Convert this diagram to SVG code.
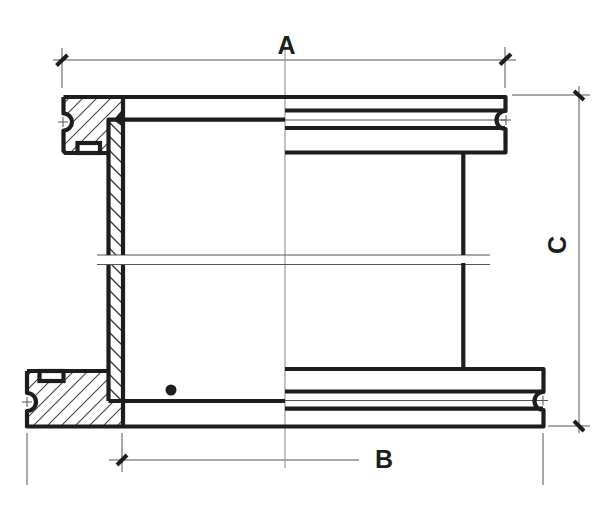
<svg xmlns="http://www.w3.org/2000/svg" width="600" height="507" viewBox="0 0 600 507">
<style>
.m{fill:none;stroke:#1d1d1b;stroke-width:4.200;stroke-linejoin:round}
.t{fill:none;stroke:#555;stroke-width:1}
.c{fill:none;stroke:#999;stroke-width:1.2}
.k{fill:#fff;stroke:#1d1d1b;stroke-width:4.200}
.tick{stroke:#1d1d1b;stroke-width:4;fill:none}
text{font-family:"Liberation Sans",Arial,sans-serif;font-weight:bold;font-size:25px;fill:#1d1d1b;text-anchor:middle}
</style>
<defs>
<pattern id="h1" patternUnits="userSpaceOnUse" x="13" y="0" width="14" height="14"><path d="M-1 15L15 -1M-8 8L8 -8M6 22L22 6" stroke="#444" stroke-width="1.100" fill="none"/></pattern>
<pattern id="h2" patternUnits="userSpaceOnUse" x="11" y="0" width="14" height="14"><path d="M-1 15L15 -1M-8 8L8 -8M6 22L22 6" stroke="#444" stroke-width="1.100" fill="none"/></pattern>
<pattern id="h3" patternUnits="userSpaceOnUse" x="-13" y="0" width="14" height="14"><path d="M-1 -1L15 15M-8 6L8 22M6 -8L22 8" stroke="#333" stroke-width="1.300" fill="none"/></pattern>
</defs>
<rect width="600" height="507" fill="#fff"/>
<g id="hatching">
<path d="M63 97H123V120H108.500V153H65L63 151V130.500A8.500 8.500 0 0 0 63 113.500Z" fill="url(#h1)"/>
<path d="M27 371H108.500V401H123V427H27V411A9 9 0 0 0 27 393Z" fill="url(#h2)"/>
<rect x="108.500" y="120" width="14.500" height="135" fill="url(#h3)"/>
<rect x="108.500" y="265" width="14.500" height="136" fill="url(#h3)"/>
</g>
<g id="dimensions">
<path class="t" d="M53 60H516M62 48V88M505 47V88M512 95H590M579 86V433M548 426H590M109 460H359M122 433V472M27 433V485M543 433V485"/>
<path class="c" d="M285 47V468"/>
<path class="tick" d="M56.500 65.500L67.500 55M500 64.500L511 54M574 91L584 100M574 421L584 431M117 465L127 455"/>
</g>
<g id="centre-lines">
<path class="t" d="M285 120H506M285 400.500H543M97 255H490M97 264.500H490"/>
<path class="t" d="M58 122H68M63 117V127M501 120H511M506 115V125M538 400.500H548M543 395.500V405.500M22 402H32M27 397V407"/>
</g>
<g id="top-flange">
<path class="m" d="M63.500 97H505.500V111A8.500 8.500 0 0 0 505.500 129V152.500H285M63.500 97V113.500A8.500 8.500 0 0 1 63.500 130.500V151L65.500 153H108.500"/>
<path class="m" d="M285 110.500H505M285 128H505M108.500 255V119.700H285"/>
<rect class="k" x="77.500" y="143" width="22.500" height="10"/>
<path d="M121 111L113.500 120L123 127Z" fill="#1d1d1b"/>
</g>
<g id="wall">
<path class="m" d="M123 97V255M123 265V427M463.300 153V255M463.300 263V369M108.500 265V401"/>
</g>
<g id="bottom-flange">
<path class="m" d="M27 371V393A9 9 0 0 1 27 411V426.500H543.500V410A9 9 0 0 1 543.500 392V369H285M27 371H108.500M108.500 401H285M285 391.500H543M285 408.700H543"/>
<rect class="k" x="39.500" y="371" width="24" height="10"/>
<circle cx="171" cy="390" r="5.500" fill="#1d1d1b"/>
</g>
<g id="labels">
<text x="286.500" y="54">A</text>
<text x="384" y="468">B</text>
<text transform="translate(566 245) rotate(-90)">C</text>
</g>
</svg>
